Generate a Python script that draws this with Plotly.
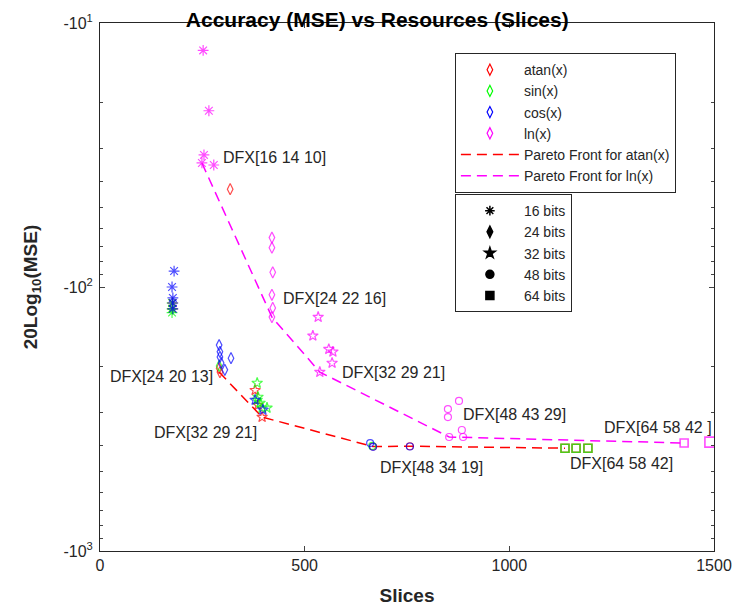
import math
import plotly.graph_objects as go

# ---------------- data (Slices, |MSE| in dB, plotted as -|MSE|) ----------------
atan_16_x = [177, 177];            atan_16_y = [115, 121]
atan_24_x = [318, 291, 293];       atan_24_y = [42.6, 203, 210]
atan_32_x = [379, 386, 396];       atan_32_y = [246, 280, 311]
atan_48_x = [667, 757];            atan_48_y = [402, 401]
atan_64_x = [1136, 1163, 1192];    atan_64_y = [408, 408, 408]

sin_16_x = [176, 176, 176];        sin_16_y = [115, 121, 125]
sin_24_x = [291];                  sin_24_y = [199]
sin_32_x = [384, 386, 384, 391, 396, 408]; sin_32_y = [231, 261, 268, 275, 287, 287]
sin_48_x = [665];                  sin_48_y = [400]
sin_64_x = [1136, 1163, 1192];     sin_64_y = [408, 408, 408]

cos_16_x = [181, 176, 178, 178, 178]; cos_16_y = [87, 100, 110, 115, 121]
cos_24_x = [291, 293, 293, 320, 296, 305]; cos_24_y = [166, 176, 184, 186, 194, 206]
cos_32_x = [379, 398];             cos_32_y = [268, 292]
cos_48_x = [660, 667, 757];        cos_48_y = [390, 403, 402]

ln_16_x = [252, 266, 254, 249, 278]; ln_16_y = [12.7, 21.5, 31.6, 33.9, 34.5]
ln_24_x = [420, 420, 422, 420, 422, 420]; ln_24_y = [65, 71, 88, 107, 120, 130]
ln_32_x = [533, 520, 559, 569, 567, 537]; ln_32_y = [130, 153, 172, 176, 194, 210]
ln_48_x = [877, 850, 850, 884, 887, 853]; ln_48_y = [270, 290, 311, 348, 370, 370]
ln_64_x = [1427, 1490];            ln_64_y = [390, 387]

pareto_atan_x = [291, 396, 667, 757, 1136]; pareto_atan_y = [210, 311, 402, 401, 408]
pareto_ln_x = [249, 420, 537, 853, 1427];   pareto_ln_y = [33.9, 130, 210, 370, 390]

label_text = ["DFX[16 14 10]", "DFX[24 22 16]", "DFX[32 29 21]", "DFX[48 43 29]",
              "DFX[64 58 42 ]", "DFX[24 20 13]", "DFX[32 29 21]", "DFX[48 34 19]",
              "DFX[64 58 42]"]
label_x = [296, 442, 586, 882, 1226, 20, 127, 679, 1143]
label_y = [32.2, 111, 210, 303, 342, 219, 357, 481, 468]

func_names = ["atan(x)", "sin(x)", "cos(x)", "ln(x)"]
func_colors = ["#ff0000", "#00ff00", "#0000ff", "#ff00ff"]
bit_names = ["16 bits", "24 bits", "32 bits", "48 bits", "64 bits"]

FONT = "Liberation Sans, Arial"

# ---------------- figure ----------------
fig = go.Figure()

sym_open = {"16": "asterisk-open", "24": "diamond-tall-open", "32": "star-open",
            "48": "circle-open", "64": "square-open"}
sizes = {"16": 9, "24": 8, "32": 8, "48": 7, "64": 8}

series = [
    ("#ff0000", [("16", atan_16_x, atan_16_y), ("24", atan_24_x, atan_24_y),
                 ("32", atan_32_x, atan_32_y), ("48", atan_48_x, atan_48_y),
                 ("64", atan_64_x, atan_64_y)]),
    ("#00ff00", [("16", sin_16_x, sin_16_y), ("24", sin_24_x, sin_24_y),
                 ("32", sin_32_x, sin_32_y), ("48", sin_48_x, sin_48_y),
                 ("64", sin_64_x, sin_64_y)]),
    ("#0000ff", [("16", cos_16_x, cos_16_y), ("24", cos_24_x, cos_24_y),
                 ("32", cos_32_x, cos_32_y), ("48", cos_48_x, cos_48_y)]),
    ("#ff00ff", [("16", ln_16_x, ln_16_y), ("24", ln_24_x, ln_24_y),
                 ("32", ln_32_x, ln_32_y), ("48", ln_48_x, ln_48_y),
                 ("64", ln_64_x, ln_64_y)]),
]

DASH = "10px,6px"

# Pareto fronts (drawn under markers)
fig.add_trace(go.Scatter(x=pareto_atan_x, y=pareto_atan_y, mode="lines",
                         line=dict(color="#ff0000", width=1.5, dash=DASH),
                         showlegend=False, hoverinfo="skip"))
fig.add_trace(go.Scatter(x=pareto_ln_x, y=pareto_ln_y, mode="lines",
                         line=dict(color="#ff00ff", width=1.5, dash=DASH),
                         showlegend=False, hoverinfo="skip"))

for color, groups in series:
    for bits, xs, ys in groups:
        sz_list = [sizes[bits]] * len(xs)
        if color == "#ff00ff" and bits == "64":
            sz_list[-1] = 10
        fig.add_trace(go.Scatter(
            x=xs, y=ys, mode="markers", showlegend=False,
            marker=dict(symbol=sym_open[bits], size=sz_list, color=color,
                        line=dict(color=color, width=1.2 if bits != "64" else 1.6))))

# Legend 1 entries
for name, col in zip(func_names, func_colors):
    fig.add_trace(go.Scatter(x=[None], y=[None], mode="markers", name=name,
                             marker=dict(symbol="diamond-tall-open", size=8, color=col,
                                         line=dict(color=col, width=1.2)),
                             legend="legend"))
fig.add_trace(go.Scatter(x=[None], y=[None], mode="lines", name="Pareto Front for atan(x)",
                         line=dict(color="#ff0000", width=1.5, dash=DASH), legend="legend"))
fig.add_trace(go.Scatter(x=[None], y=[None], mode="lines", name="Pareto Front for ln(x)",
                         line=dict(color="#ff00ff", width=1.5, dash=DASH), legend="legend"))

# Legend 2 entries
filled = ["asterisk-open", "diamond-tall", "star", "circle", "square"]
for name, sym in zip(bit_names, filled):
    fig.add_trace(go.Scatter(x=[None], y=[None], mode="markers", name=name,
                             marker=dict(symbol=sym, size=8, color="black",
                                         line=dict(color="black", width=1.5)),
                             legend="legend2"))

for t, x, y in zip(label_text, label_x, label_y):
    fig.add_annotation(x=x, y=math.log10(y), text=t, showarrow=False,
                       xanchor="left", yanchor="middle",
                       font=dict(family=FONT, size=16, color="#262626"))

minor_vals = [v * m for m in (10, 100) for v in range(2, 10)]

fig.update_layout(
    width=743, height=600,
    margin=dict(l=92, r=37, t=15, b=57, autoexpand=False),
    paper_bgcolor="white", plot_bgcolor="white",
    font=dict(family=FONT, size=15, color="#262626"),
    title=dict(text="<b>Accuracy (MSE) vs Resources (Slices)</b>", xref="container",
               x=0.497, xanchor="center", yref="container", y=0.98, yanchor="middle",
               font=dict(size=21, color="black")),
    xaxis=dict(range=[0, 1500], tickvals=[0, 500, 1000, 1500], ticks="inside", ticklen=5,
               showline=True, linecolor="#262626", linewidth=1, mirror="ticks",
               showgrid=False, zeroline=False, tickfont=dict(size=16), automargin=False,
               title=dict(text="<b>Slices</b>", font=dict(size=19, color="#262626"), standoff=15)),
    yaxis=dict(type="log", range=[3, 1], tickvals=[10, 100, 1000],
               ticktext=["-10<sup>1</sup>", "-10<sup>2</sup>", "-10<sup>3</sup>"],
               ticks="inside", ticklen=5, showline=True, linecolor="#262626", linewidth=1,
               mirror="ticks", showgrid=False, zeroline=False, tickfont=dict(size=16),
               automargin=False, ticklabelstandoff=3,
               minor=dict(tickvals=minor_vals, ticks="inside", ticklen=3, showgrid=False),
               title=dict(text="<b>20Log<sub>10</sub>(MSE)</b>", font=dict(size=19, color="#262626"),
                          standoff=20)),
    legend=dict(x=0.578, y=0.943, xanchor="left", yanchor="top", bgcolor="white",
                bordercolor="#262626", borderwidth=1, font=dict(size=14),
                tracegroupgap=0, itemwidth=58),
    legend2=dict(x=0.578, y=0.676, xanchor="left", yanchor="top", bgcolor="white",
                 bordercolor="#262626", borderwidth=1, font=dict(size=14),
                 tracegroupgap=0, itemwidth=58),
)

fig.write_html("out.html")
